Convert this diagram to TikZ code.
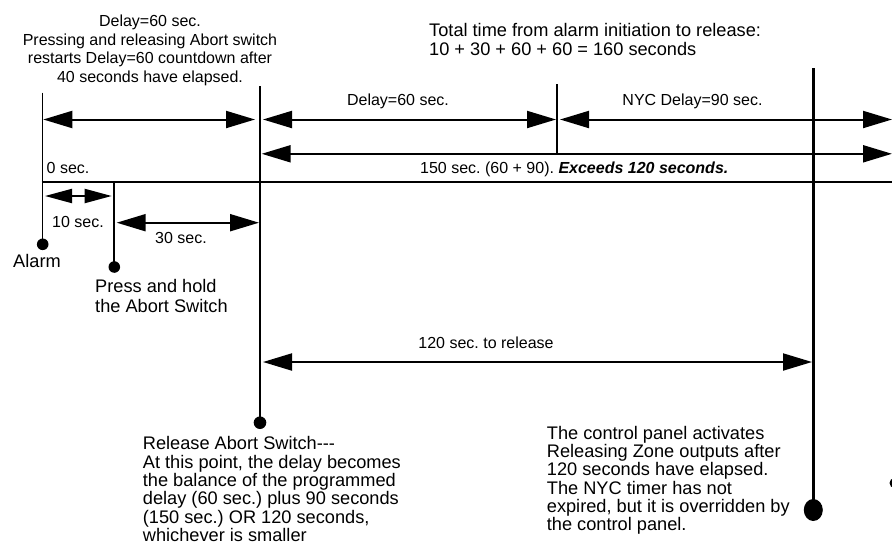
\documentclass[tikz,border=0pt]{standalone}
\usepackage{fontspec}
\setmainfont{Liberation Sans}
\usetikzlibrary{arrows.meta,shapes.geometric}
\frenchspacing
\begin{document}
\begin{tikzpicture}[x=1pt,y=-1pt,
  lbl/.style={font=\fontsize{16}{18.5}\selectfont, inner sep=0pt},
  note/.style={font=\fontsize{18.2}{18.3}\selectfont, inner sep=0pt, align=left, anchor=north west},
  dimarrow/.style={line width=2pt, {Triangle[length=29pt,width=17pt]}-{Triangle[length=29pt,width=17pt]}},
  smallarrow/.style={line width=2pt, {Triangle[length=27pt,width=14pt]}-{Triangle[length=27pt,width=14pt]}},
  dot/.style={circle, fill=black, inner sep=0pt, minimum size=11.6pt},
  bigdot/.style={ellipse, fill=black, inner sep=0pt, minimum width=19pt, minimum height=22pt}
]
\useasboundingbox (0,0) rectangle (892,544);

% ---- top texts
\node[lbl, align=center, anchor=north] (toptext) at (150,15)
  {Delay=60 sec.\\Pressing and releasing Abort switch\\restarts Delay=60 countdown after\\40 seconds have elapsed.};
\node[note, font=\fontsize{18.2}{19}\selectfont] (total) at (429,23)
  {Total time from alarm initiation to release:\\10 + 30 + 60 + 60 = 160 seconds};

% ---- coordinates of vertical lines
\coordinate (v0t) at (42.7,92.5);
\node[dot] (d0) at (42.7,244.3) {};
\coordinate (v1t) at (114.3,182);
\node[dot] (d1) at (114.3,267) {};
\coordinate (v2t) at (260,86);
\node[dot, minimum size=12.6pt] (d2) at (260,422.7) {};
\coordinate (v3t) at (557.3,84);
\coordinate (v3b) at (557.3,153.5);
\coordinate (v4t) at (813.3,68.3);
\node[bigdot] (d4) at (813.3,510) {};

\draw[line width=1pt] (v0t) -- (d0.center);
\draw[line width=1.7pt] (v1t) -- (d1.center);
\draw[line width=2pt] (v2t) -- (d2.center);
\draw[line width=1.7pt] (v3t) -- (v3b);
\draw[line width=3.6pt] (v4t) -- (d4.center);

% partial dot at right edge
\fill (894.5,483) circle (5pt);

% ---- timeline
\coordinate (tl0) at (41.5,182);
\coordinate (tl1) at (892,182);
\draw[line width=2pt] (tl0) -- (tl1);

% ---- arrows row 1
\coordinate (a1l) at (43.3,119.5);  \coordinate (a1r) at (255,119.5);
\coordinate (a2l) at (263,119.5);   \coordinate (a2r) at (556,119.5);
\coordinate (a3l) at (560,119.5);   \coordinate (a3r) at (892,119.5);
\draw[dimarrow] (a1l) -- (a1r);
\draw[dimarrow] (a2l) -- (a2r);
\draw[dimarrow] (a3l) -- (a3r);
% row 2
\coordinate (b1l) at (261.7,153.8); \coordinate (b1r) at (892,153.8);
\draw[dimarrow] (b1l) -- (b1r);
% 10 sec, 30 sec
\coordinate (c1l) at (45,196); \coordinate (c1r) at (111.7,196);
\draw[smallarrow] (c1l) -- (c1r);
\coordinate (c2l) at (116.7,222.7); \coordinate (c2r) at (259,222.7);
\draw[dimarrow] (c2l) -- (c2r);
% 120 sec
\coordinate (e1l) at (263,362); \coordinate (e1r) at (812,362);
\draw[dimarrow] (e1l) -- (e1r);

% ---- labels
\node[lbl, anchor=base west] (l0) at (46.5,173.3) {0 sec.};
\node[lbl, anchor=base] (ldelay) at (398,105.7) {Delay=60 sec.};
\node[lbl, anchor=base] (lnyc) at (692.5,105.7) {NYC Delay=90 sec.};
\node[lbl, anchor=base west] (l150) at (420,173.3) {150 sec. (60 + 90). \textbf{\textit{Exceeds 120 seconds.}}};
\node[lbl, anchor=base] (l10) at (78,227.3) {10 sec.};
\node[lbl, anchor=base] (l30) at (181,243.3) {30 sec.};
\node[lbl, anchor=base] (l120) at (486,348.7) {120 sec. to release};

\node[note, anchor=base] (alarm) at (37,267.5) {Alarm};
\node[note, font=\fontsize{18.2}{20}\selectfont] (press) at (95,279) {Press and hold\\the Abort Switch};
\node[note] (release) at (142.7,436.5)
  {Release Abort Switch-{}-{}-\\At this point, the delay becomes\\the balance of the programmed\\delay (60 sec.) plus 90 seconds\\(150 sec.) OR 120 seconds,\\whichever is smaller};
\node[note] (panel) at (546.7,426)
  {The control panel activates\\Releasing Zone outputs after\\120 seconds have elapsed.\\The NYC timer has not\\expired, but it is overridden by\\the control panel.};
\end{tikzpicture}
\end{document}
